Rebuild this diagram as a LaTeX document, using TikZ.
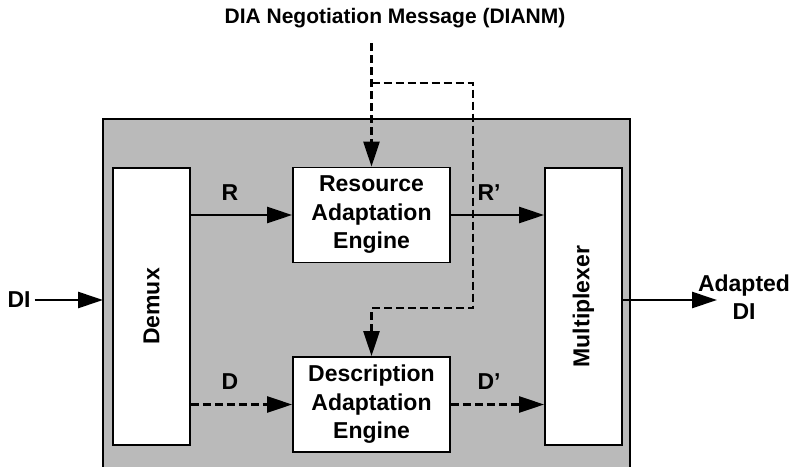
\documentclass[tikz,border=0pt]{standalone}
\usepackage{fontspec}
\setmainfont{Liberation Sans}
\usetikzlibrary{arrows.meta,calc}
\definecolor{panelgray}{RGB}{186,186,186}
\tikzset{
  every node/.style={font=\bfseries\fontsize{23}{28.5}\selectfont, inner sep=0pt},
  titlefont/.style={font=\bfseries\fontsize{21}{25}\selectfont},
  blockbox/.style={draw=black, line width=1.8pt, fill=white, align=center},
  tallbox/.style={blockbox, minimum width=77pt, minimum height=277pt},
  enginebox/.style={blockbox, minimum width=157pt, minimum height=95pt},
  flow/.style={line width=2.6pt, -{Triangle[length=25pt,width=16pt]}},
  dflow/.style={flow, dash pattern=on 8pt off 4pt},
}
\begin{document}
\begin{tikzpicture}[x=1pt,y=-1pt]
\useasboundingbox (0,0) rectangle (794,466);

% shaded processing panel (runs off the bottom edge)
\fill[panelgray] (103,119) rectangle (630,470);
\draw[line width=1.8pt] (103,470) -- (103,119) -- (630,119) -- (630,470);
\coordinate (frameW) at (103,300);

% blocks
\node[tallbox] (demux) at (151.5,306.5) {};
\node[rotate=90] at (demux.center) {Demux};
\node[tallbox] (mux) at (583.5,306.5) {};
\node[rotate=90] at (mux.center) {Multiplexer};
\node[enginebox] (res) at (371.5,215) {Resource\\Adaptation\\Engine};
\node[enginebox] (desc) at (371.5,404.5) {Description\\Adaptation\\Engine};

% negotiation message path
\node[titlefont] (msg) at (395,18) {DIA Negotiation Message (DIANM)};
\coordinate (msgtop) at (371.5,43);
\coordinate (split) at (371.5,83);
\coordinate (turn) at (473,83);
\coordinate (back) at (473,308);
\draw[dflow] (msgtop) -- (res.north);
\draw[dflow] (split) -- (turn) -- (back) -| (desc.north);

% data flows
\draw[flow] (demux.east |- res.west) -- (res.west);
\draw[flow] (res.east) -- (mux.west |- res.east);
\draw[dflow] (demux.east |- desc.west) -- (desc.west);
\draw[dflow] (desc.east) -- (mux.west |- desc.east);
\node (rlab) at (230,193) {R};
\node (dlab) at (230,382) {D};
\node (rplab) at (489,193) {R’};
\node (dplab) at (489,382) {D’};

% input and output
\node (di) at (19,300) {DI};
\draw[flow] ([xshift=4pt]di.east) -- (frameW);
\node[align=center] (out) at (744,297) {Adapted\\DI};
\coordinate (outend) at (717,300);
\draw[flow] (mux.east |- outend) -- (outend);
\end{tikzpicture}
\end{document}
